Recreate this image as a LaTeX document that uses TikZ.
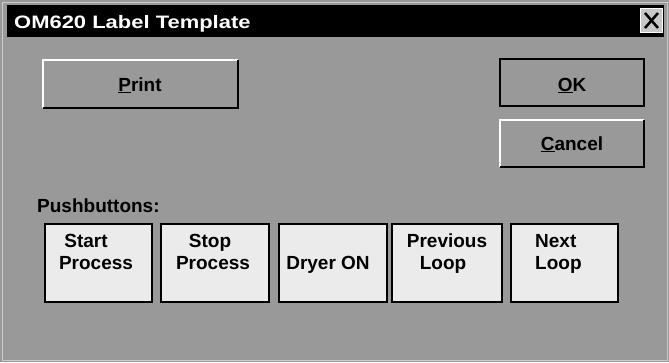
\documentclass[tikz,border=0pt]{standalone}
\usepackage{fontspec}
\usepackage{graphicx}
\setmainfont{Liberation Sans}
\definecolor{dither}{gray}{0.6}
\definecolor{face}{gray}{0.92}
\tikzset{
  btntext/.style={font=\fontsize{19}{21}\selectfont\bfseries, inner sep=0pt},
  pushbtn/.style={draw=black, line width=1.6pt, fill=face},
  raisedtop/.style={draw=white, line width=1.2pt},
  raisedbot/.style={draw=black, line width=2pt},
}
\begin{document}
\begin{tikzpicture}[x=1pt,y=-1pt]
\useasboundingbox (0,0) rectangle (669,362);
% window background
\fill[dither] (0,0) rectangle (669,362);
\draw[white!80!black, line width=1pt] (2,2) rectangle (667,360);
% title bar
\fill[black] (7,5) rectangle (664,37);
\node[anchor=base west, text=white, inner sep=0pt, font=\fontsize{18}{20}\selectfont\bfseries] (title) at (14,28) {\scalebox{1.22}[1]{OM620 Label Template}};
% close box
\node[draw=white, line width=1pt, fill=black!22, minimum width=22pt, minimum height=24pt, inner sep=0pt] (close) at (651.5,20.5) {};
\draw[black, line width=2.5pt] ([shift={(5,-5)}]close.south west) -- ([shift={(-5,5)}]close.north east);
\draw[black, line width=2.5pt] ([shift={(5,5)}]close.north west) -- ([shift={(-5,-5)}]close.south east);
% Print button
\coordinate (p1) at (43,60); \coordinate (p2) at (238,108);
\draw[raisedtop] (43,108) -- (p1) -- (238,60);
\draw[raisedbot] (43,108) -- (p2) -- (238,60);
\node[btntext, anchor=base] (print) at (140,91) {\underline{P}rint};
% OK button
\draw[black, line width=2.4pt] (500,59) rectangle (644,106);
\node[btntext, anchor=base] (ok) at (572,91) {\underline{O}K};
% Cancel button
\draw[raisedtop] (500,167) -- (500,120) -- (644,120);
\draw[raisedbot] (500,167) -- (644,167) -- (644,120);
\node[btntext, anchor=base] (cancel) at (572,150) {\underline{C}ancel};
% Pushbuttons label
\node[anchor=base west, inner sep=0pt, font=\fontsize{19}{21}\selectfont\bfseries] (pblabel) at (37,212) {Pushbuttons:};
% push buttons
\draw[pushbtn] (45,224) rectangle (152,302);
\node[btntext, anchor=base] (b1a) at (86,247) {Start};
\node[btntext, anchor=base] (b1b) at (96,269) {Process};
\draw[pushbtn] (161,224) rectangle (269,302);
\node[btntext, anchor=base] (b2a) at (210,247) {Stop};
\node[btntext, anchor=base] (b2b) at (213,269) {Process};
\draw[pushbtn] (279,224) rectangle (387,302);
\node[btntext, anchor=base] (b3) at (328,269) {Dryer ON};
\draw[pushbtn] (392,224) rectangle (502,302);
\node[btntext, anchor=base] (b4a) at (447,247) {Previous};
\node[btntext, anchor=base] (b4b) at (443,269) {Loop};
\draw[pushbtn] (511,224) rectangle (618,302);
\node[btntext, anchor=base west] (b5a) at (535,247) {Next};
\node[btntext, anchor=base west] (b5b) at (535,269) {Loop};
\end{tikzpicture}
\end{document}
